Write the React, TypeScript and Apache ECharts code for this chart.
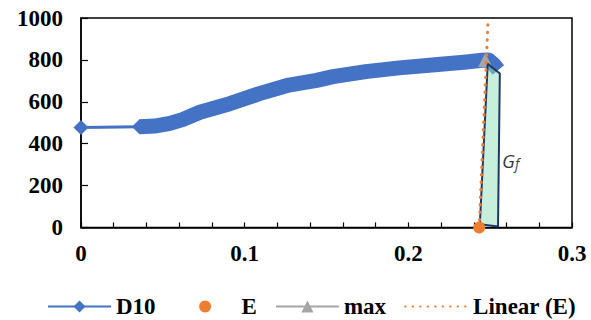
import React, { useEffect, useRef } from 'react';
import * as echarts from 'echarts';

// ---- data ----
const d10Lead: [number, number][] = [
  [0, 477],
  [0.0357, 481],
];
const d10Band: [number, number][] = [
  [0.0357, 481],
  [0.045, 484],
  [0.0543, 497],
  [0.062, 515],
  [0.0726, 550],
  [0.0909, 591],
  [0.109, 639],
  [0.127, 680],
  [0.144, 702],
  [0.154, 720],
  [0.174, 744],
  [0.1945, 762],
  [0.2146, 776],
  [0.2354, 790],
  [0.245, 798],
  [0.249, 800],
  [0.252, 780],
  [0.255, 752],
];
const ePoint: [number, number][] = [[0.2433, 0]];
const maxPoint: [number, number][] = [[0.247, 800]];
const linearE: [number, number][] = [
  [0.2433, 0],
  [0.2488, 1000],
];
const gfPolygon: [number, number][] = [
  [0.2437, 15],
  [0.2485, 781],
  [0.2559, 735],
  [0.2548, 5],
];
const gfLabelPos: [number, number][] = [[0.2625, 318]];
const legendNames = ['D10', 'E', 'max', 'Linear (E)'];

const BLUE = '#4472C4';
const ORANGE = '#ED7D31';
const GRAY = '#A5A5A5';
const SERIF = '"Liberation Serif", "Times New Roman", serif';
const CLEAR = 'rgba(0,0,0,0)';

export default function App() {
  const ref = useRef<HTMLDivElement>(null);
  useEffect(() => {
    if (!ref.current) return;
    const chart = echarts.init(ref.current, undefined, { renderer: 'svg' });
    const option: any = {
      animation: false,
      grid: {
        left: 81,
        right: 19,
        top: 18,
        bottom: 92.5,
        show: true,
        borderColor: '#000',
        borderWidth: 1.5,
      },
      legend: {
        data: legendNames,
        left: 42,
        top: 290,
        itemWidth: 63,
        itemHeight: 15,
        itemGap: 18,
        textStyle: { fontFamily: SERIF, fontWeight: 'bold', fontSize: 23, color: '#000' },
      },
      xAxis: {
        type: 'value',
        min: 0,
        max: 0.3,
        interval: 0.02,
        splitLine: { show: false },
        axisLine: { show: true, lineStyle: { color: '#000', width: 1.5 } },
        axisTick: { show: true, inside: true, length: 5, lineStyle: { color: '#000', width: 1.2 } },
        axisLabel: {
          margin: 14,
          fontFamily: SERIF,
          fontWeight: 'bold',
          fontSize: 23,
          color: '#000',
          formatter: (v: number) => {
            const r = Math.round(v * 100);
            return r % 10 === 0 ? String(r / 100) : '';
          },
        },
      },
      yAxis: {
        type: 'value',
        min: 0,
        max: 1000,
        interval: 200,
        splitLine: { show: false },
        axisLine: { show: true, lineStyle: { color: '#000', width: 1.5 } },
        axisTick: { show: true, inside: true, length: 7, lineStyle: { color: '#000', width: 1.2 } },
        axisLabel: {
          margin: 18,
          fontFamily: SERIF,
          fontWeight: 'bold',
          fontSize: 23,
          color: '#000',
          formatter: (v: number) => String(Math.round(v)),
        },
      },
      series: [
        {
          name: 'D10 band',
          type: 'line',
          data: d10Band,
          showSymbol: false,
          symbol: 'none',
          lineStyle: { color: BLUE, width: 15, cap: 'butt', join: 'round' },
          itemStyle: { color: BLUE },
          z: 2,
        },
        {
          name: 'D10',
          type: 'line',
          data: d10Lead,
          symbol: 'diamond',
          symbolSize: 15,
          showSymbol: true,
          lineStyle: { color: BLUE, width: 3 },
          itemStyle: { color: BLUE },
          z: 3,
        },
        {
          name: 'max',
          type: 'line',
          data: maxPoint,
          symbol: 'triangle',
          symbolSize: 14,
          lineStyle: { color: GRAY, width: 3.5 },
          itemStyle: { color: GRAY },
          z: 4,
        },
        {
          name: 'Gf area',
          type: 'custom',
          data: [[0.25, 400]],
          encode: { x: 0, y: 1 },
          renderItem: (_params: any, api: any) => {
            const pts = gfPolygon.map((p) => api.coord(p));
            return {
              type: 'polygon',
              shape: { points: pts },
              style: { fill: 'rgba(146,222,186,0.5)', stroke: '#1F3864', lineWidth: 2, lineJoin: 'round' },
            };
          },
          z: 5,
        },
        {
          name: 'Linear (E)',
          type: 'line',
          data: linearE,
          symbol: 'none',
          lineStyle: { color: ORANGE, width: 3, type: [0.5, 7], cap: 'round' },
          itemStyle: { color: CLEAR, borderWidth: 0 },
          z: 6,
        },
        {
          name: 'E',
          type: 'line',
          data: ePoint,
          symbol: 'circle',
          symbolSize: 12,
          showSymbol: true,
          lineStyle: { color: CLEAR, width: 0 },
          itemStyle: { color: ORANGE, opacity: 1 },
          clip: false,
          z: 7,
        },
        {
          name: 'Gf label',
          type: 'scatter',
          data: gfLabelPos,
          symbolSize: 1,
          itemStyle: { color: CLEAR },
          silent: true,
          label: {
            show: true,
            position: 'inside',
            formatter: '{g|G}{s|f}',
            rich: {
              g: {
                fontFamily: '"Open Sans", "DejaVu Sans", sans-serif',
                fontStyle: 'italic',
                fontSize: 19,
                lineHeight: 19,
                color: '#000',
                verticalAlign: 'top',
                padding: [0, 0, 5, 0],
              },
              s: {
                fontFamily: '"Open Sans", "DejaVu Sans", sans-serif',
                fontStyle: 'italic',
                fontSize: 14,
                lineHeight: 14,
                color: '#000',
                verticalAlign: 'bottom',
              },
            },
          },
          z: 8,
        },
      ],
    };
    chart.setOption(option);
    return () => chart.dispose();
  }, []);
  return (
    <div
      ref={ref}
      style={{ position: 'fixed', left: 0, top: 0, width: 591, height: 320, background: '#fff' }}
    />
  );
}
